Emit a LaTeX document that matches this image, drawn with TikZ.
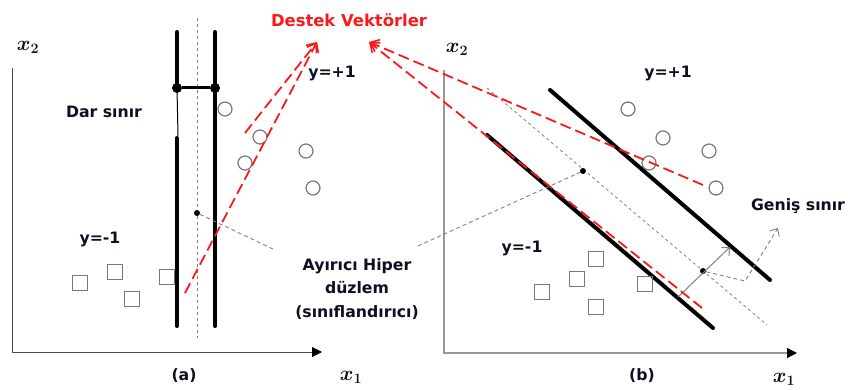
\documentclass[tikz,border=0pt]{standalone}
\usepackage{fontspec}
\setmainfont{DejaVu Sans}
\usetikzlibrary{arrows.meta}
\definecolor{redv}{RGB}{250,25,25}
\definecolor{txt}{RGB}{15,15,35}
\definecolor{ptgray}{RGB}{120,120,120}
\begin{document}
\begin{tikzpicture}[x=1pt,y=-1pt,
  lbl/.style={font=\fontsize{15.7}{23.5}\selectfont\bfseries, text=txt, inner sep=0pt, align=center},
  axl/.style={font=\fontsize{22}{24}\selectfont\boldmath, text=txt, inner sep=0pt},
  svm/.style={line width=4pt, line cap=round},
  hyp/.style={gray, line width=0.8pt, dash pattern=on 3pt off 3pt},
  ptr/.style={gray, line width=0.9pt, dash pattern=on 4pt off 3pt},
  sv/.style={redv, line width=1.8pt, dash pattern=on 11pt off 5pt, -{Straight Barb[length=8pt,width=13pt,line width=1.6pt]}},
  circ/.style={circle, draw=ptgray, line width=1.2pt, minimum size=14pt, inner sep=0pt},
  sq/.style={draw=ptgray, line width=1.2pt, minimum size=15pt, inner sep=0pt},
  blob/.style={circle, fill=black, inner sep=0pt, minimum size=#1},
  axisL/.style={line width=1pt, draw=black!70, -{Triangle[length=10pt,width=10pt,color=black]}},
  axisR/.style={line width=1.3pt, draw=black!40, -{Triangle[length=10pt,width=10pt,color=black]}},
]
\useasboundingbox (0,0) rectangle (848,390);

% ---------- panel (a) ----------
\coordinate (aY) at (12,68);
\coordinate (aO) at (12,352);
\coordinate (aX) at (322,352);
\draw[axisL] (aY) -- (aO) -- (aX);
\node[axl] (ax2) at (28,47) {$x_2$};
\node[axl] (ax1) at (351,377) {$x_1$};
\node[lbl] (acap) at (184,376) {(a)};

\coordinate (aL0) at (177,32);
\coordinate (aL1) at (177,88);
\coordinate (aL2) at (178,136);
\coordinate (aL3) at (177,138);
\coordinate (aL4) at (177,326);
\coordinate (aR0) at (215,32);
\coordinate (aR1) at (215,326);
\draw[svm] (aL0) -- (aL1);
\draw[line width=1pt] (aL1) -- (aL2);
\draw[svm] (aL3) -- (aL4);
\draw[svm] (aR0) -- (aR1);
\coordinate (aH0) at (197,18);
\coordinate (aH1) at (197,338);
\draw[hyp] (aH0) -- (aH1);
\node[blob=10pt] (bl) at (177,88) {};
\node[blob=10pt] (br) at (215,88) {};
\draw[line width=3pt] (bl) -- (br);
\node[blob=6pt] (ad) at (197,213) {};

\node[circ] (ac1) at (225,109) {};
\node[circ] (ac2) at (260,137) {};
\node[circ] (ac3) at (245,163) {};
\node[circ] (ac4) at (306,151) {};
\node[circ] (ac5) at (313,188) {};
\node[sq] (as1) at (80,283) {};
\node[sq] (as2) at (115,272) {};
\node[sq] (as3) at (132,299) {};
\node[sq] (as4) at (167,277) {};

\node[lbl] (dar) at (104,112) {Dar sınır};
\node[lbl] (apos) at (332,73) {y=+1};
\node[lbl] (aneg) at (100,239) {y=-1};

% ---------- labels in the middle ----------
\node[lbl, font=\fontsize{16.4}{20}\selectfont\bfseries, text=redv] (dv) at (349,20) {Destek Vektörler};
\node[lbl] (hl) at (357,289) {Ayırıcı Hiper\\düzlem\\(sınıflandırıcı)};

% ---------- panel (b) ----------
\coordinate (bY) at (444,70);
\coordinate (bO) at (444,353);
\coordinate (bX) at (797,353);
\draw[axisR] (bY) -- (bO) -- (bX);
\node[axl] (bx2) at (457,49) {$x_2$};
\node[axl] (bx1) at (784,379) {$x_1$};
\node[lbl] (bcap) at (642,376) {(b)};

\coordinate (bA0) at (487,135);
\coordinate (bA1) at (713,328);
\coordinate (bB0) at (550,90);
\coordinate (bB1) at (770,280);
\coordinate (bH0) at (487,88);
\coordinate (bH1) at (767,325);
\draw[svm] (bA0) -- (bA1);
\draw[svm] (bB0) -- (bB1);
\draw[hyp] (bH0) -- (bH1);
\node[blob=6pt] (bd1) at (583,171) {};
\node[blob=6pt] (bd2) at (703,271) {};

\node[circ] (bc1) at (628,109) {};
\node[circ] (bc2) at (663,138) {};
\node[circ] (bc3) at (709,151) {};
\node[circ] (bc4) at (649,163) {};
\node[circ] (bc5) at (716,188) {};
\node[sq] (bs1) at (542,292) {};
\node[sq] (bs2) at (577,279) {};
\node[sq] (bs3) at (596,259) {};
\node[sq] (bs4) at (596,307) {};
\node[sq] (bs5) at (645,284) {};

\node[lbl] (bpos) at (668,73) {y=+1};
\node[lbl] (bneg) at (522,248) {y=-1};
\node[lbl] (gen) at (798,206) {Geniş sınır};

% margin arrow
\coordinate (mA) at (678,297);
\coordinate (mB) at (730,247);
\draw[gray, line width=1pt, -{Straight Barb[length=6pt,width=11pt]}] (mA) -- (mB);
\coordinate (gA) at (745,281);
\coordinate (gB) at (778,228);
\draw[ptr, -{Straight Barb[length=6pt,width=11pt]}] (bd2) -- (gA) -- (gB);

% pointers from the hyperplane label
\coordinate (hpA) at (275,250);
\coordinate (hpB) at (418,246);
\draw[ptr] (ad) -- (hpA);
\draw[ptr] (hpB) -- (bd1);

% support vector arrows
\coordinate (tipL) at (317,42);
\coordinate (tipR) at (369,42);
\coordinate (sL1) at (185,293);
\coordinate (sL2) at (245,133);
\coordinate (sR1) at (703,185);
\coordinate (sR2) at (702,308);
\draw[sv] (sL1) -- (tipL);
\draw[sv] (sL2) -- (tipL);
\draw[sv] (sR1) -- (tipR);
\draw[sv] (sR2) -- (tipR);
\end{tikzpicture}
\end{document}
